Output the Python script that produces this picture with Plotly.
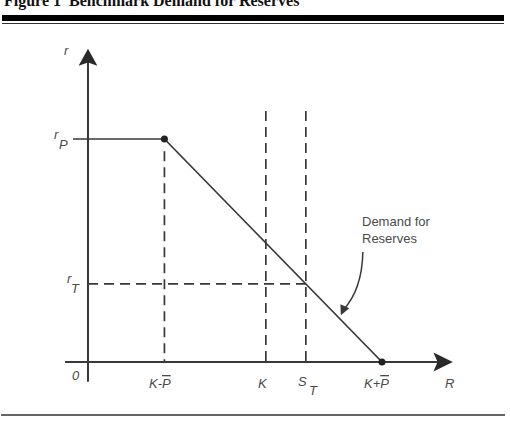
import plotly.graph_objects as go

# ---- data (conceptual units) ----
R_labels = ["K-P", "K", "S_T", "K+P"]
K_minus_P = 2.6
K = 6.05
S_T = 7.41
K_plus_P = 10.0
r_P = 10.0
r_T = 3.5
R_axis_end = 12.41
r_axis_end = 14.05
R_axis_start = -0.78
r_axis_start = -0.88
curve_left = -0.51
vline_top = 11.25

# demand schedule
demand_R = [curve_left, K_minus_P, K_plus_P]
demand_r = [r_P, r_P, 0.0]
dots_R = [K_minus_P, K_plus_P]
dots_r = [r_P, 0.0]

# callout curve (quadratic bezier: start, control, end) and arrow tip
callout_pts = [(9.35, 4.93), (9.32, 3.23), (8.68, 2.33)]
callout_tip = (8.60, 2.10)

LINE = "#383838"
TXT = "#4a4a4a"
SANS = "Liberation Sans, Arial, Helvetica, sans-serif"

fig = go.Figure()

# axes lines
fig.add_trace(go.Scatter(x=[0, 0], y=[r_axis_start, r_axis_end - 0.5], mode="lines",
                         line=dict(color=LINE, width=2), hoverinfo="skip"))
fig.add_trace(go.Scatter(x=[R_axis_start, R_axis_end - 0.5], y=[0, 0], mode="lines",
                         line=dict(color=LINE, width=2), hoverinfo="skip"))

# dashed guides
dash = "10px,6px"
fig.add_trace(go.Scatter(x=[K_minus_P, K_minus_P], y=[r_P - 0.55, 0], mode="lines",
                         line=dict(color=LINE, width=1.7, dash=dash), hoverinfo="skip"))
for xv in [K, S_T]:
    fig.add_trace(go.Scatter(x=[xv, xv], y=[vline_top, 0], mode="lines",
                             line=dict(color=LINE, width=1.7, dash=dash), hoverinfo="skip"))
fig.add_trace(go.Scatter(x=[0, S_T], y=[r_T, r_T], mode="lines",
                         line=dict(color=LINE, width=1.7, dash=dash), hoverinfo="skip"))

# demand curve
fig.add_trace(go.Scatter(x=demand_R, y=demand_r, mode="lines",
                         line=dict(color=LINE, width=1.7), hoverinfo="skip"))
fig.add_trace(go.Scatter(x=dots_R, y=dots_r, mode="markers",
                         marker=dict(color="#222222", size=7), hoverinfo="skip"))

shapes = []
# axis arrowheads (filled, notched)
ah_len_y, ah_half_y, ah_notch_y = 0.76, 0.32, 0.62
shapes.append(dict(type="path", xref="x", yref="y", fillcolor="#2a2a2a", line=dict(width=0),
                   path=f"M 0 {r_axis_end} L {ah_half_y} {r_axis_end-ah_len_y} L 0 {r_axis_end-ah_notch_y} "
                        f"L {-ah_half_y} {r_axis_end-ah_len_y} Z"))
ah_len_x, ah_half_x, ah_notch_x = 0.66, 0.43, 0.52
shapes.append(dict(type="path", xref="x", yref="y", fillcolor="#2a2a2a", line=dict(width=0),
                   path=f"M {R_axis_end} 0 L {R_axis_end-ah_len_x} {ah_half_x} L {R_axis_end-ah_notch_x} 0 "
                        f"L {R_axis_end-ah_len_x} {-ah_half_x} Z"))
# callout curve
(p0, c, p2) = callout_pts
shapes.append(dict(type="path", xref="x", yref="y", line=dict(color=LINE, width=1.5),
                   path=f"M {p0[0]} {p0[1]} Q {c[0]} {c[1]} {p2[0]} {p2[1]}"))

# page rules (paper coords)
H = 423.0
W = 510.0
shapes.append(dict(type="rect", xref="paper", yref="paper", x0=2 / W, x1=504 / W,
                   y0=1 - 21 / H, y1=1 - 15 / H, fillcolor="#000000", line=dict(width=0)))
shapes.append(dict(type="line", xref="paper", yref="paper", x0=2 / W, x1=504 / W,
                   y0=1 - 23.5 / H, y1=1 - 23.5 / H, line=dict(color="#333333", width=1)))
shapes.append(dict(type="line", xref="paper", yref="paper", x0=1 / W, x1=505 / W,
                   y0=1 - 415 / H, y1=1 - 415 / H, line=dict(color="#333333", width=1.6)))

annotations = []
ifont = dict(family=SANS, size=13, color=TXT, style="italic")

def lab(text, x, y, xs=0, ys=0, font=ifont, xanchor="center"):
    annotations.append(dict(text=text, x=x, y=y, xref="x", yref="y", showarrow=False,
                            xshift=xs, yshift=ys, font=font, xanchor=xanchor, yanchor="middle"))

bar = lambda s: f'<span style="text-decoration:overline">{s}</span>'

# axis labels
lab("r", 0, r_axis_end, xs=-21, ys=-2)
lab("r", 0, r_P, xs=-31, ys=5)
lab("P", 0, r_P, xs=-24, ys=-5)
lab("r", 0, r_T, xs=-18, ys=5)
lab("T", 0, r_T, xs=-12, ys=-5)
lab("0", 0, 0, xs=-12, ys=-13)
lab("R", R_axis_end, 0, xs=-3, ys=-21)
# tick labels on R axis
lab("K-" + bar("P"), K_minus_P, 0, xs=-4, ys=-21)
lab("K", K, 0, xs=-3, ys=-21)
lab("S", S_T, 0, xs=-3, ys=-19)
lab("T", S_T, 0, xs=8, ys=-28)
lab("K+" + bar("P"), K_plus_P, 0, xs=-5, ys=-21)

# callout text
annotations.append(dict(text="Demand for<br>Reserves", x=p0[0], y=p0[1], xref="x", yref="y",
                        showarrow=False, xanchor="left", yanchor="bottom", xshift=-3, yshift=4,
                        align="left", font=dict(family=SANS, size=13, color=TXT)))
# callout arrowhead
annotations.append(dict(text="", x=callout_tip[0], y=callout_tip[1], ax=p2[0], ay=p2[1],
                        xref="x", yref="y", axref="x", ayref="y", showarrow=True,
                        arrowhead=2, arrowsize=1.3, arrowwidth=1.5, arrowcolor=LINE))

# figure title (partially cut off at top)
annotations.append(dict(text="<b>Figure 1\u00a0\u00a0Benchmark Demand for Reserves</b>",
                        x=2 / W, y=1 - 1 / H, xref="paper", yref="paper", showarrow=False,
                        xanchor="left", yanchor="middle",
                        font=dict(family="Liberation Serif, Times New Roman, serif", size=16,
                                  color="#111111")))

fig.update_layout(
    width=510, height=423, autosize=False,
    margin=dict(l=0, r=0, t=0, b=0, pad=0),
    paper_bgcolor="white", plot_bgcolor="white",
    showlegend=False,
    xaxis=dict(range=[-2.993, 14.354], visible=False, fixedrange=True),
    yaxis=dict(range=[-2.735, 16.233], visible=False, fixedrange=True),
    shapes=shapes, annotations=annotations,
)

fig.write_html("out.html")
